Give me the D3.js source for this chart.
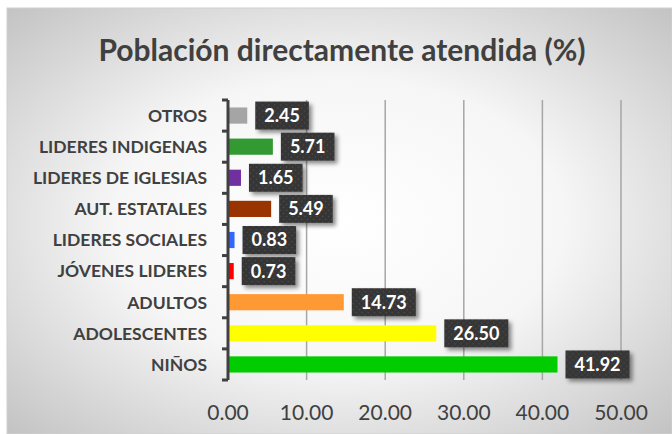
<!DOCTYPE html>
<html><head><meta charset="utf-8">
<script src="https://cdn.jsdelivr.net/npm/d3@7"></script>
<style>html,body{margin:0;padding:0;background:#fff;}svg{display:block;}</style>
</head><body>
<svg id="chart" width="672" height="434"></svg>
<script>
const title = "Población directamente atendida (%)";
const categories = ["OTROS","LIDERES INDIGENAS","LIDERES DE IGLESIAS","AUT. ESTATALES","LIDERES SOCIALES","JÓVENES LIDERES","ADULTOS","ADOLESCENTES","NIÑOS"];
const values = [2.45,5.71,1.65,5.49,0.83,0.73,14.73,26.50,41.92];
const colors = ["#a5a5a5","#339933","#7030a0","#993300","#3366ff","#ff0000","#ff9933","#ffff00","#00cc00"];
const xTicks = [0,10,20,30,40,50];

const svg = d3.select("#chart");
const defs = svg.append("defs");
const rg = defs.append("radialGradient").attr("id","bg").attr("cx","50%").attr("cy","50%").attr("r","75%");
rg.append("stop").attr("offset","0%").attr("stop-color","#ffffff");
rg.append("stop").attr("offset","45%").attr("stop-color","#f6f6f6");
rg.append("stop").attr("offset","100%").attr("stop-color","#bdbdbd");
const pat = defs.append("pattern").attr("id","dots").attr("width",6).attr("height",6).attr("patternUnits","userSpaceOnUse");
pat.append("rect").attr("width",6).attr("height",6).attr("fill","#363636");
pat.append("circle").attr("cx",1.5).attr("cy",1.5).attr("r",0.7).attr("fill","#4e4e4e");
pat.append("circle").attr("cx",4.5).attr("cy",4.5).attr("r",0.7).attr("fill","#4e4e4e");
const f = defs.append("filter").attr("id","sh").attr("x","-20%").attr("y","-20%").attr("width","150%").attr("height","160%");
f.append("feDropShadow").attr("dx",3).attr("dy",3).attr("stdDeviation",2).attr("flood-color","#000").attr("flood-opacity",0.45);

svg.append("rect").attr("x",7).attr("y",8).attr("width",665).attr("height",426)
  .attr("fill","url(#bg)").attr("stroke","#d0d0d0").attr("stroke-width",1);

svg.append("text").attr("x",342).attr("y",61).attr("text-anchor","middle")
  .attr("font-family","Lato, 'Open Sans', sans-serif").attr("font-weight","bold")
  .attr("font-size",30).attr("fill","#404040").text(title);

const x = d3.scaleLinear().domain([0,50]).range([228,621]);
const y = d3.scaleBand().domain(categories).range([100,380]).paddingInner(0.48).paddingOuter(0.24);

// gridlines
svg.append("g").selectAll("line").data(xTicks.slice(1)).join("line")
  .attr("x1",d=>x(d)).attr("x2",d=>x(d)).attr("y1",100).attr("y2",380)
  .attr("stroke","#a6a6a6").attr("stroke-width",1.5);

// bars
svg.append("g").selectAll("rect").data(categories).join("rect")
  .attr("x",x(0)).attr("y",d=>y(d)).attr("height",y.bandwidth())
  .attr("width",(d,i)=>x(values[i])-x(0)).attr("fill",(d,i)=>colors[i]);

// y axis
const yAxisLine = svg.append("g");
yAxisLine.append("line").attr("x1",228).attr("x2",228).attr("y1",100).attr("y2",380)
  .attr("stroke","#404040").attr("stroke-width",3);
const step = (380-100)/categories.length;
const bounds = d3.range(categories.length+1).map(i=>100+i*step);
yAxisLine.selectAll("line.t").data(bounds).join("line").attr("class","t")
  .attr("x1",222).attr("x2",228).attr("y1",d=>d).attr("y2",d=>d)
  .attr("stroke","#404040").attr("stroke-width",3);

// category labels
svg.append("g").selectAll("text").data(categories).join("text")
  .attr("x",207).attr("y",d=>y(d)+y.bandwidth()/2).attr("dy","0.36em")
  .attr("text-anchor","end").attr("font-family","Lato, 'Open Sans', sans-serif")
  .attr("font-weight","bold").attr("font-size",17.5).attr("fill","#404040").text(d=>d);

// x axis labels
svg.append("g").selectAll("text").data(xTicks).join("text")
  .attr("x",d=>x(d)).attr("y",420).attr("text-anchor","middle")
  .attr("font-family","Lato, 'Open Sans', sans-serif").attr("font-size",21)
  .attr("fill","#404040").text(d=>d3.format(".2f")(d));

// data labels
const lg = svg.append("g").selectAll("g").data(categories).join("g")
  .attr("transform",(d,i)=>`translate(${x(values[i])+8},${y(d)+y.bandwidth()/2})`);
lg.each(function(d,i){
  const g = d3.select(this);
  const t = d3.format(".2f")(values[i]);
  const txt = g.append("text").attr("x",0).attr("y",0).attr("dy","0.36em")
    .attr("font-family","Lato, 'Open Sans', sans-serif").attr("font-weight","bold")
    .attr("font-size",18).attr("fill","#ffffff").text(t);
  const w = txt.node().getComputedTextLength();
  g.insert("rect","text").attr("x",0).attr("y",-14).attr("width",w+18).attr("height",28)
    .attr("fill","url(#dots)").attr("filter","url(#sh)");
  txt.attr("x",9);
});
</script>
</body></html>
